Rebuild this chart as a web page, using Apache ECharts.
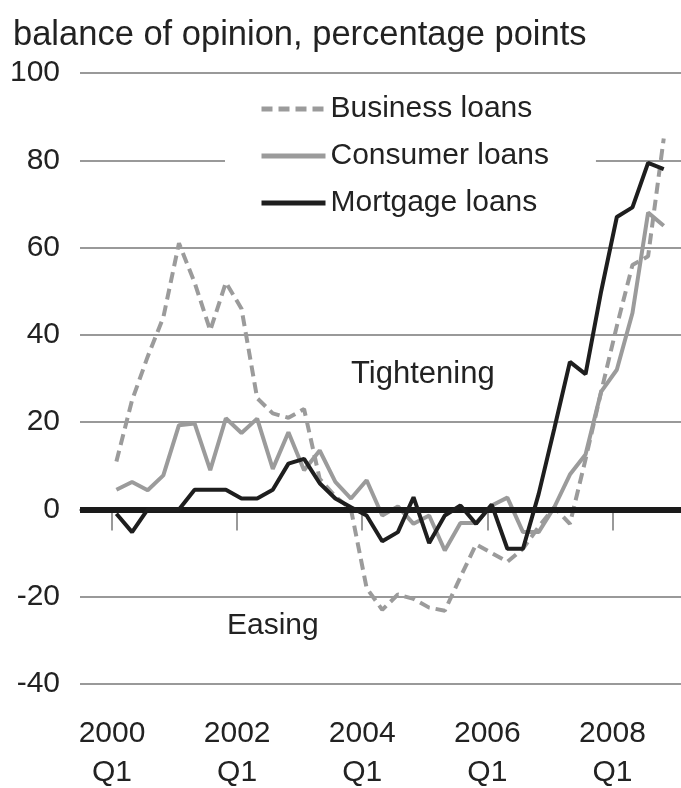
<!DOCTYPE html>
<html lang="en">
<head>
	<meta charset="UTF-8">
	<title>Credit conditions</title>
	<script src="https://cdn.jsdelivr.net/npm/echarts@6/dist/echarts.min.js"></script>
	<style>
		html,body{margin:0;padding:0;background:#fff;}
	</style>
</head>
<body>
	<div id="chart" style="width:681px; height:788px;"></div>
<script>
	// quarterly, first point = 2000 Q1
	var startYear=2000;
	var business=[11,25,35,44,61,52,41,52,46,25.5,22,21,23,7,3,0,-18,-23,-19.5,-20.5,-22.5,-23.2,-15.5,-8,-10,-12,-9,-4,0.5,-3.3,11.5,27,42,56,58,85];
	var consumer=[4.5,6.3,4.4,7.8,19.3,19.7,9,20.9,17.5,20.8,9.3,17.7,9,13.5,6.3,2.5,6.7,-1.4,0.7,-3.3,-1.4,-9.4,-3.1,-3.1,0.9,2.7,-5.2,-5.2,0.5,8,12.6,27,32,45,68,65];
	var mortgage=[-1,-5.2,0,0,0,4.5,4.5,4.5,2.5,2.5,4.5,10.5,11.6,6,2.5,0.5,-1.4,-7.3,-5.2,2.8,-7.7,-1.4,0.9,-3.3,1.1,-9,-9,3.5,18.5,33.8,31,50,67,69.2,79.4,78];
	var yearTicks=[2000,2002,2004,2006,2008];
	var seriesNames=['Business loans','Consumer loans','Mortgage loans'];

	var FONT='"Liberation Sans", Arial, sans-serif';

	// quarter index -> fractional year (points sit a little after the tick)
	function toPoints(arr){
		return arr.map(function(v,i){
			return [startYear+(i+0.28)/4,v];
		});
	}

	var chart=echarts.init(document.getElementById('chart'));
	var option={
		animation:false,
		backgroundColor:'#fff',
		title:{
			text:'balance of opinion, percentage points',
			left:8,
			top:13,
			textStyle:{fontFamily:FONT,fontSize:34.5,fontWeight:'normal',color:'#222'}
		},
		grid:{left:80,right:0,top:73,bottom:104,outerBoundsMode:'none'},
		legend:{
			data:seriesNames,
			orient:'vertical',
			left:225,
			top:84,
			itemWidth:64,
			itemHeight:14,
			itemGap:17,
			padding:[10,47,10,34],
			backgroundColor:'#fff',
			itemStyle:{opacity:0},
			lineStyle:{width:5},
			textStyle:{fontFamily:FONT,fontSize:30,color:'#222',lineHeight:30}
		},
		xAxis:{
			type:'value',
			min:startYear-0.512,
			max:startYear+9.096,
			axisLine:{show:true,lineStyle:{color:'#999',width:2}},
			axisTick:{show:true,customValues:yearTicks,length:21,lineStyle:{color:'#999',width:2}},
			axisLabel:{
				customValues:yearTicks,
				margin:30,
				fontFamily:FONT,fontSize:30,color:'#222',lineHeight:39,
				formatter:function(v){return v+'\nQ1';}
			},
			splitLine:{show:false}
		},
		yAxis:{
			type:'value',
			min:-40,
			max:100,
			interval:20,
			axisLine:{show:false},
			axisTick:{show:false},
			axisLabel:{margin:20,fontFamily:FONT,fontSize:30,color:'#222'},
			splitLine:{lineStyle:{color:'#999',width:2}}
		},
		series:[{
			name:'zero',
			type:'line',
			data:[],
			z:1,
			markLine:{
				silent:true,
				symbol:['none','none'],
				label:{show:false},
				lineStyle:{color:'#1a1a1a',width:6,type:'solid'},
				data:[{yAxis:0}]
			}
		},{
			name:seriesNames[0],
			type:'line',
			data:toPoints(business),
			symbol:'none',
			z:3,
			lineStyle:{color:'#9b9b9b',width:4,type:[11,6]},
			itemStyle:{color:'#9b9b9b'}
		},{
			name:seriesNames[1],
			type:'line',
			data:toPoints(consumer),
			symbol:'none',
			z:4,
			lineStyle:{color:'#9b9b9b',width:4},
			itemStyle:{color:'#9b9b9b'}
		},{
			name:seriesNames[2],
			type:'line',
			data:toPoints(mortgage),
			symbol:'none',
			z:5,
			lineStyle:{color:'#1e1e1e',width:4},
			itemStyle:{color:'#1e1e1e'}
		}],
		graphic:[{
			type:'text',
			left:351,
			top:359,
			style:{text:'Tightening',font:'31px '+FONT,fill:'#222'}
		},{
			type:'text',
			left:227,
			top:611,
			style:{text:'Easing',font:'30px '+FONT,fill:'#222'}
		}]
	};
	chart.setOption(option);
</script>
</body>
</html>
